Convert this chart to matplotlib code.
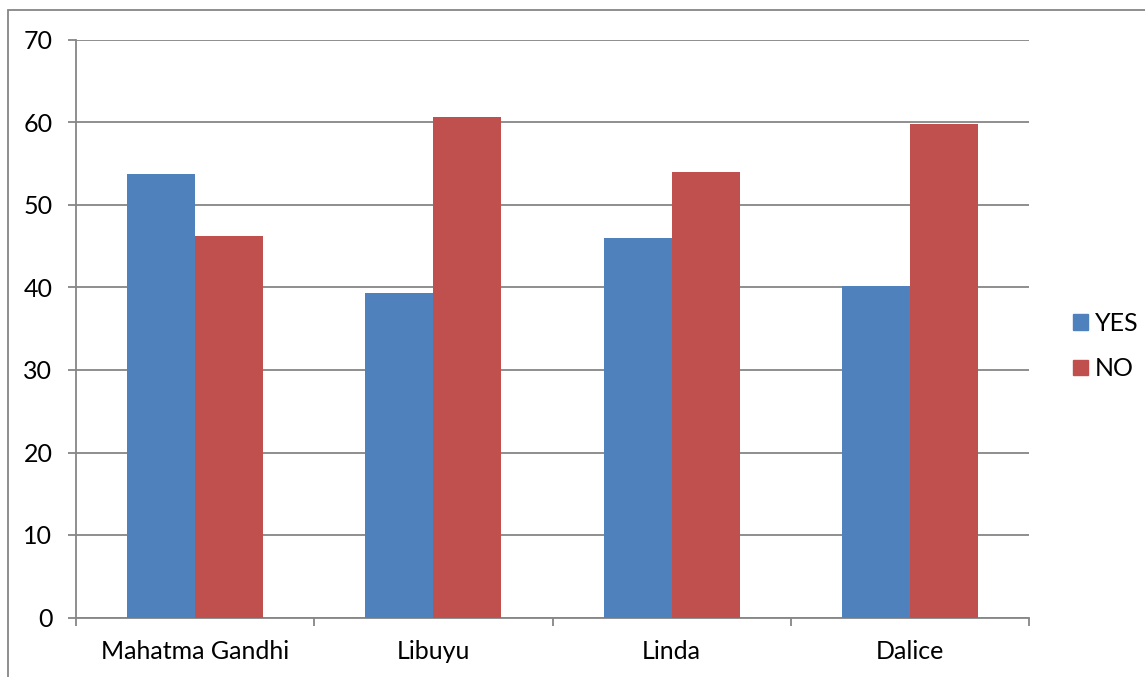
import matplotlib.pyplot as plt
import numpy as np
from matplotlib.patches import Rectangle, Patch

schools = ["Mahatma Gandhi", "Libuyu", "Linda", "Dalice"]
yes_pct = [53.7, 39.3, 46.0, 40.2]
no_pct = [46.3, 60.7, 54.0, 59.8]

plt.rcParams['font.family'] = ['Lato', 'DejaVu Sans']
grey = '#868686'

fig = plt.figure(figsize=(11.45, 6.77), dpi=100)
ax = fig.add_axes([76 / 1145, 1 - 617.5 / 677, (1029 - 76) / 1145, (617.5 - 40) / 677])

x = np.arange(len(schools))
width = 1 / 3.5
ax.bar(x - width / 2, yes_pct, width, color='#4F81BD', label='YES', zorder=3)
ax.bar(x + width / 2, no_pct, width, color='#C0504D', label='NO', zorder=3)

ax.set_xlim(-0.5, len(schools) - 0.5)
ax.set_ylim(0, 70)
ax.set_yticks(range(0, 71, 10))
ax.yaxis.grid(True, color=grey, linewidth=1.3, zorder=0)
ax.set_axisbelow(True)

ax.set_xticks(x)
ax.set_xticklabels(schools)
ax.set_xticks(np.arange(-0.5, len(schools)), minor=True)
ax.tick_params(axis='x', which='major', length=0, pad=16, labelsize=18)
ax.tick_params(axis='x', which='minor', length=6, color=grey, width=1.3)
ax.tick_params(axis='y', length=6, color=grey, width=1.3, pad=11, labelsize=18)

for side in ['top', 'right']:
    ax.spines[side].set_visible(False)
for side in ['left', 'bottom']:
    ax.spines[side].set_color(grey)
    ax.spines[side].set_linewidth(1.3)

handles = [Patch(color='#4F81BD', label='YES'), Patch(color='#C0504D', label='NO')]
fig.legend(handles=handles, loc='center left', bbox_to_anchor=(1050 / 1145, 1 - 346 / 677),
           frameon=False, fontsize=18, handlelength=0.6, handleheight=0.6,
           handletextpad=0.3, labelspacing=0.9)

# chart area border, only top and left edges fall inside the image
fig.add_artist(Rectangle((8 / 1145, -0.1), 1.2, 1 - 10 / 677 + 0.1,
                         transform=fig.transFigure, fill=False,
                         edgecolor=grey, linewidth=1.3))

plt.savefig('out.png', dpi=100)
plt.close()
